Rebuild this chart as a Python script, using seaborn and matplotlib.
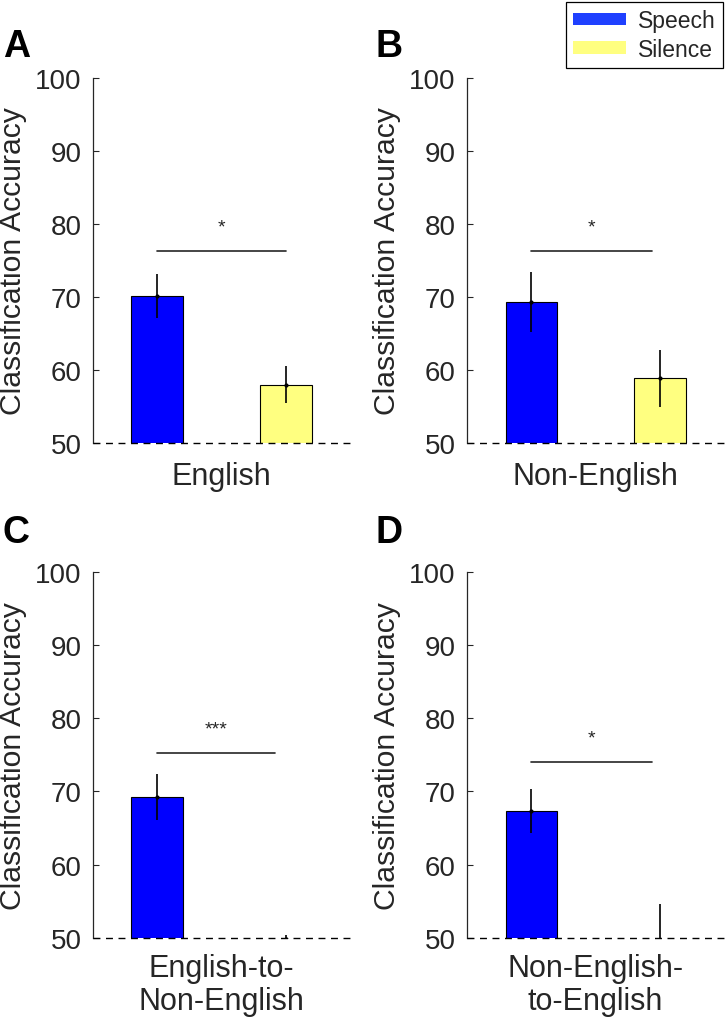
import numpy as np
import pandas as pd
import matplotlib
matplotlib.use("Agg")
import matplotlib.pyplot as plt
from matplotlib.patches import Patch
import seaborn as sns

# ---------------- data ----------------
panel_letters = ["A", "B", "C", "D"]
conditions = ["English", "Non-English", "English-to-\nNon-English", "Non-English-\nto-English"]
groups = ["Speech", "Silence"]
speech_mean = [70.1, 69.3, 69.2, 67.3]
speech_err = [3.0, 4.1, 3.1, 3.0]
silence_mean = [58.0, 58.9, 49.8, 49.5]
silence_err = [2.5, 3.9, 0.6, 5.1]
sig_y = [76.3, 76.3, 75.2, 74.0]
sig_labels = ["*", "*", "***", "*"]
yticks = [50, 60, 70, 80, 90, 100]
ylabel = "Classification Accuracy"

colors = ["#0000ff", "#ffff80"]
legend_colors = ["#1f40ff", "#ffff80"]
dark = "#262626"

sns.set_style("white")
plt.rcParams["font.family"] = ["Liberation Sans", "DejaVu Sans"]

fig = plt.figure(figsize=(7.25, 10.2), dpi=100)

positions = [
    [0.128, 0.5647, 0.355, 0.3578],
    [0.644, 0.5647, 0.355, 0.3578],
    [0.128, 0.0797, 0.355, 0.3588],
    [0.644, 0.0797, 0.355, 0.3588],
]
letter_pos = [(0.004, 0.944), (0.518, 0.944), (0.004, 0.4676), (0.518, 0.4676)]
sig_end_shrink = [0.0, 0.025, 0.035, 0.025]

for i in range(4):
    ax = fig.add_axes(positions[i])
    df = pd.DataFrame({
        "cond": [conditions[i]] * 2,
        "group": groups,
        "acc": [speech_mean[i], silence_mean[i]],
    })
    sns.barplot(data=df, x="cond", y="acc", hue="group", hue_order=groups,
                palette=colors, saturation=1, errorbar=None, width=0.8, gap=0.6,
                edgecolor="black", linewidth=0.8, legend=False, ax=ax)
    patches = sorted(ax.patches, key=lambda p: p.get_x())
    centers = [p.get_x() + p.get_width() / 2 for p in patches]
    means = [speech_mean[i], silence_mean[i]]
    errs = [speech_err[i], silence_err[i]]
    ax.errorbar(centers, means, yerr=errs, fmt=".", color="black", ms=4,
                lw=1.2, capsize=0, zorder=5)

    ax.set_xlim(-0.4, 0.4)
    ax.set_ylim(50, 100)
    ax.set_yticks(yticks)
    ax.axhline(50, color="black", ls=(0, (5, 4)), lw=1.0, clip_on=False, zorder=6)

    for s in ["top", "right", "bottom"]:
        ax.spines[s].set_visible(False)
    ax.spines["left"].set_color(dark)
    ax.spines["left"].set_linewidth(0.9)

    ax.tick_params(axis="y", direction="in", length=4, width=0.8,
                   labelsize=20, pad=8, colors=dark, left=True)
    ax.tick_params(axis="x", length=0, labelsize=22, pad=13 if i < 2 else 11, colors=dark)
    for lab in ax.get_xticklabels():
        lab.set_linespacing(1.15)
    ax.set_xlabel("")
    ax.set_ylabel(ylabel, fontsize=21.7, color=dark)
    ax.yaxis.set_label_coords(-0.255, 0.5)

    # significance bar
    x0 = centers[0]
    x1 = centers[1] - sig_end_shrink[i]
    ax.plot([x0, x1], [sig_y[i], sig_y[i]], color=dark, lw=1.2)
    ax.text((x0 + x1) / 2, sig_y[i] + 3.3, sig_labels[i], ha="center",
            va="center", fontsize=14, color=dark)

    fig.text(letter_pos[i][0], letter_pos[i][1], panel_letters[i],
             fontsize=27, fontweight="bold", color="black", va="baseline")

handles = [Patch(facecolor=c, edgecolor="none") for c in legend_colors]
leg = fig.legend(handles, groups, loc="upper right", bbox_to_anchor=(0.997, 0.997),
                 frameon=True, fancybox=False, edgecolor="black", fontsize=16.5,
                 handlelength=2.3, handleheight=0.45, handletextpad=0.55,
                 labelspacing=0.25, borderpad=0.3, borderaxespad=0, framealpha=1)
leg.get_frame().set_linewidth(0.9)
for t in leg.get_texts():
    t.set_color(dark)

fig.savefig("out.png", dpi=100)
